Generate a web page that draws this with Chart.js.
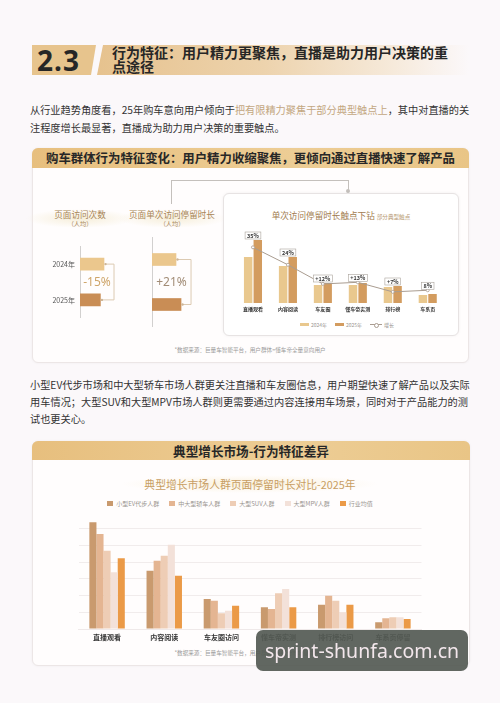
<!DOCTYPE html>
<html>
<head>
<meta charset="utf-8">
<script src="https://cdn.jsdelivr.net/npm/chart.js@4.4.1/dist/chart.umd.min.js"></script>
<style>
  body { margin: 0; background: #fbf8fa; font-family: "Noto Sans CJK SC", sans-serif; }
  #page { position: relative; width: 500px; height: 703px; overflow: hidden; background: #fbf8fa; }
  .abs { position: absolute; }
  .num { left: 32px; top: 45px; width: 64px; height: 30px; background: #e7c48d;
         clip-path: polygon(0 0, 100% 0, calc(100% - 5px) 100%, 0 100%);
         font: bold 28px "Noto Sans", sans-serif; color: #262626; line-height: 30px; text-indent: 5px; letter-spacing: 1px; }
  .banner { left: 97px; top: 45px; width: 372px; height: 30px;
            clip-path: polygon(6px 0, 100% 0, 100% 100%, 0 100%);
            background: linear-gradient(90deg, #e6c28e 0%, #edd3ad 45%, #f6eadb 80%, rgba(250,244,244,0) 100%); }
  .htitle { left: 112px; top: 46px; font-weight: bold; font-size: 14px; line-height: 13.5px; color: #262626; }
  .para { left: 30px; width: 438px; font-size: 10.2px; color: #333; }
  .para div { height: 18px; line-height: 18px; white-space: nowrap; }
  .para .j { text-align: justify; text-align-last: justify; }
  .hl { color: #c3a77f; }
  .panel { background: #fffdfd; border: 1px solid #ece6e6; border-radius: 6px; box-shadow: 0 0 3px rgba(0,0,0,0.05); }
  .band { background: linear-gradient(90deg, #e7bf7e, #edcd95 60%, #e9c586); border-radius: 6px 6px 0 0;
          text-align: center; font-weight: bold; color: #272727; }
  .mtitle { width: 110px; text-align: center; color: #a88557; font-size: 8.6px; line-height: 11px;
            background: radial-gradient(ellipse at center, #f6eed9 0%, rgba(246,238,217,0) 70%); }
  .mtitle small { display: block; font-size: 6.2px; line-height: 8px; }
  .line { background: #c4c0bc; }
  .inner { left: 223px; top: 193px; width: 234px; height: 141px; background: #fff; border: 1px solid #e7e3e3;
           border-radius: 6px; box-shadow: 0 0 3px rgba(0,0,0,0.06); }
  .note { width: 500px; left: 0; text-align: center; font-size: 5.6px; color: #9a9a9a; }
  .leg { display: flex; justify-content: center; align-items: center; color: #9a9590; }
  .leg span.sw { display: inline-block; }
  .wm { left: 256px; top: 630px; width: 212px; height: 41px; border-radius: 7px; background: rgba(84,90,84,0.92);
        color: #f3e7ec; font: 19.5px "Noto Sans", sans-serif; line-height: 41px; text-align: center; }
</style>
</head>
<body>
<div id="page">
  <div class="abs num">2.3</div>
  <div class="abs banner"></div>
  <div class="abs htitle">行为特征：用户精力更聚焦，直播是助力用户决策的重<br>点途径</div>

  <div class="abs para" style="top:101px">
    <div class="j">从行业趋势角度看，25年购车意向用户倾向于<span class="hl">把有限精力聚焦于部分典型触点上</span>，其中对直播的关</div>
    <div>注程度增长最显著，直播成为助力用户决策的重要触点。</div>
  </div>

  <div class="abs panel" style="left:32px;top:148px;width:435px;height:213px"></div>
  <div class="abs band" style="left:32px;top:148px;width:437px;height:20px;line-height:20px;font-size:12.4px">购车群体行为特征变化：用户精力收缩聚焦，更倾向通过直播快速了解产品</div>

  <div class="abs line" style="left:171px;top:180px;width:1px;height:24px"></div>
  <div class="abs line" style="left:171px;top:180px;width:178px;height:1px"></div>
  <div class="abs line" style="left:348px;top:180px;width:1px;height:11px"></div>
  <div class="abs" style="left:346px;top:189px;width:4px;height:4px;border-radius:2px;background:#c4c0bc"></div>

  <div class="abs mtitle" style="left:25px;top:209px">页面访问次数<small>（人均）</small></div>
  <div class="abs mtitle" style="left:117px;top:209px">页面单次访问停留时长<small>（人均）</small></div>
  <canvas id="visitChart" class="abs" width="98" height="90" style="left:30px;top:237px"></canvas>
  <canvas id="stayChart" class="abs" width="58" height="90" style="left:142px;top:237px"></canvas>

  <div class="abs inner"></div>
  <div class="abs" style="left:223px;top:209px;width:236px;text-align:center;color:#a27c4e;font-size:8.6px">单次访问停留时长触点下钻 <span style="font-size:5.6px;color:#b79a74">部分典型触点</span></div>
  <canvas id="touchChart" class="abs" width="220" height="90" style="left:230px;top:225px"></canvas>
  <div id="touchLegend" class="abs leg" style="left:237px;top:320px;width:220px;height:9px;font-size:5px"></div>
  <div class="abs note" style="top:346px">*数据来源：巨量车智能平台，用户群体=懂车帝全量意向用户</div>

  <div class="abs para" style="top:376px">
    <div class="j">小型EV代步市场和中大型轿车市场人群更关注直播和车友圈信息，用户期望快速了解产品以及实际</div>
    <div class="j" style="margin-top:-1px">用车情况；大型SUV和大型MPV市场人群则更需要通过内容连接用车场景，同时对于产品能力的测</div>
    <div style="margin-top:-1px">试也更关心。</div>
  </div>

  <div class="abs panel" style="left:32px;top:441px;width:436px;height:223px"></div>
  <div class="abs band" style="left:32px;top:441px;width:438px;height:19px;line-height:19px;font-size:12.6px">典型增长市场-行为特征差异</div>
  <div class="abs" style="left:120px;top:475px;width:260px;height:18px;line-height:18px;text-align:center;color:#c89e63;font-size:10.8px;background:radial-gradient(ellipse at center,#faf1dc 0%,rgba(250,241,220,0) 70%)">典型增长市场人群页面停留时长对比-2025年</div>
  <div id="marketLegend" class="abs leg" style="left:0;top:499px;width:480px;height:9px;font-size:6px"></div>
  <canvas id="marketChart" class="abs" width="360" height="138" style="left:70px;top:505px"></canvas>
  <div class="abs note" style="top:649px">*数据来源：巨量车智能平台，用户群体=各细分市场意向用户</div>

  <div class="abs wm">sprint-shunfa.com.cn</div>
</div>

<script>
// 页面访问次数 / 停留时长（人均，2024=100）
const yearLabels = ['2024年', '2025年'];
const visitIndex = [100, 85];
const stayIndex = [100, 121];

// 触点下钻
const touchCats = ['直播观看', '内容阅读', '车友圈', '懂车帝实测', '排行榜', '车系页'];
const touch2024 = [46, 37, 18, 18, 16, 8];
const touch2025 = [63, 46, 20, 20, 17, 9];
const growthPct = [35, 24, 12, 13, 7, 8];
const growthText = ['35%', '24%', '+12%', '+13%', '+7%', '8%'];
const touchSeries = ['2024年', '2025年', '增长'];

// 典型增长市场 2025
const marketCats = ['直播观看', '内容阅读', '车友圈访问', '懂车帝实测', '排行榜访问', '车系页停留'];
const marketGroups = ['小型EV代步人群', '中大型轿车人群', '大型SUV人群', '大型MPV人群', '行业均值'];
const evStay = [128, 70, 36, 26, 29, 8];
const sedanStay = [114, 82, 34, 24, 40, 13];
const suvStay = [94, 88, 19, 43, 34, 14];
const mpvStay = [68, 101, 22, 48, 20, 14];
const avgStay = [85, 64, 28, 26, 29, 12];

Chart.defaults.font.family = '"Noto Sans CJK SC", sans-serif';
Chart.defaults.animation = false;
Chart.defaults.responsive = false;
Chart.defaults.plugins.legend.display = false;
Chart.defaults.plugins.tooltip.enabled = false;

const corAno = ['#ebc78d', '#c98d55'];

function bracket(texto, cor) {
    return {
        id: 'bracket',
        afterDatasetsDraw(chart) {
            const ctx = chart.ctx;
            const bars = chart.getDatasetMeta(0).data;
            const a = bars[0], b = bars[1];
            const bx = Math.max(a.x, b.x) + 10;
            ctx.save();
            ctx.strokeStyle = '#dccab2';
            ctx.lineWidth = 1;
            ctx.beginPath();
            ctx.moveTo(a.x + 1, a.y);
            ctx.lineTo(bx, a.y);
            ctx.lineTo(bx, b.y);
            ctx.lineTo(b.x + 1, b.y);
            ctx.stroke();
            ctx.fillStyle = '#cdb597';
            [a, b].forEach(p => { ctx.beginPath(); ctx.arc(p.x + 1.5, p.y, 1.2, 0, Math.PI * 2); ctx.fill(); });
            ctx.font = '12px "Noto Sans", sans-serif';
            ctx.fillStyle = cor;
            ctx.textAlign = 'center';
            ctx.textBaseline = 'middle';
            ctx.fillText(texto, (chart.chartArea.left + bx) / 2, (a.y + b.y) / 2 + 1);
            ctx.restore();
        }
    };
}

function miniChart(id, valores, texto, cor, comLabels) {
    new Chart(document.getElementById(id), {
        type: 'bar',
        data: {
            labels: yearLabels,
            datasets: [{ data: valores, backgroundColor: corAno, barThickness: 12 }]
        },
        options: {
            indexAxis: 'y',
            layout: { padding: 0 },
            scales: {
                x: { display: false, min: 0, max: 200 },
                y: {
                    afterFit: s => { s.width = comLabels ? 50 : 10; },
                    grid: { display: false, drawTicks: false },
                    border: { color: '#d2d0cf' },
                    ticks: { display: comLabels, color: '#555', font: { size: 7 }, padding: 5 }
                }
            }
        },
        plugins: [bracket(texto, cor)]
    });
}

miniChart('visitChart', visitIndex, '-15%', '#cfa66b', true);
miniChart('stayChart', stayIndex, '+21%', '#a28c76', false);

const growthBoxes = {
    id: 'growthBoxes',
    afterDatasetsDraw(chart) {
        const ctx = chart.ctx;
        const x = chart.scales.x;
        const bars = chart.getDatasetMeta(1).data;
        const pts = chart.getDatasetMeta(2).data;
        ctx.save();
        ctx.font = 'bold 5.5px "Noto Sans CJK SC"';
        ctx.textAlign = 'center';
        ctx.textBaseline = 'middle';
        growthText.forEach((t, i) => {
            const cx = x.getPixelForValue(i);
            const bottom = Math.min(bars[i].y, pts[i].y) - 1;
            const w = ctx.measureText(t).width + 4, h = 7;
            ctx.fillStyle = '#fff';
            ctx.fillRect(cx - w / 2, bottom - h, w, h);
            ctx.strokeStyle = '#aaa39c';
            ctx.lineWidth = 0.6;
            ctx.strokeRect(cx - w / 2, bottom - h, w, h);
            ctx.fillStyle = '#3a3a3a';
            ctx.fillText(t, cx, bottom - h / 2);
        });
        ctx.restore();
    }
};

const corTouch = ['#e9c88e', '#d39c5f'];
const corLinha = '#a99c90';

new Chart(document.getElementById('touchChart'), {
    type: 'bar',
    data: {
        labels: touchCats,
        datasets: [
            { label: touchSeries[0], data: touch2024, backgroundColor: corTouch[0], categoryPercentage: 0.55, barPercentage: 0.88, order: 2 },
            { label: touchSeries[1], data: touch2025, backgroundColor: corTouch[1], categoryPercentage: 0.55, barPercentage: 0.88, order: 2 },
            { type: 'line', label: touchSeries[2], data: growthPct, yAxisID: 'y1', borderColor: corLinha, borderWidth: 1,
              pointRadius: 1.5, pointBackgroundColor: '#fff', pointBorderColor: corLinha, pointBorderWidth: 0.8, order: 1 }
        ]
    },
    options: {
        layout: { padding: { left: 5.5, right: 4.5, top: 8, bottom: 0 } },
        scales: {
            x: {
                afterFit: s => { s.height = 12; },
                grid: { display: false, drawTicks: false },
                border: { display: false },
                ticks: { color: '#333', font: { size: 5, weight: 'bold' }, padding: 3, maxRotation: 0, autoSkip: false }
            },
            y: { display: false, min: 0, max: 70 },
            y1: { display: false, min: 0, max: 44 }
        }
    },
    plugins: [growthBoxes]
});

document.getElementById('touchLegend').innerHTML =
    `<span class="sw" style="width:9px;height:3px;background:${corTouch[0]};margin-right:2px"></span>${touchSeries[0]}` +
    `<span class="sw" style="width:9px;height:3px;background:${corTouch[1]};margin:0 2px 0 8px"></span>${touchSeries[1]}` +
    `<span class="sw" style="width:12px;height:4px;margin:0 2px 0 8px;background:linear-gradient(${corLinha},${corLinha}) center/100% 1px no-repeat;position:relative"><span style="position:absolute;left:4px;top:0;width:3px;height:3px;border:0.6px solid ${corLinha};border-radius:50%;background:#fff"></span></span>${touchSeries[2]}`;

const corMercado = ['#c99a6e', '#e4b592', '#eecdb5', '#f3e1d9', '#eb9a47'];
const seriesMercado = [evStay, sedanStay, suvStay, mpvStay, avgStay];

new Chart(document.getElementById('marketChart'), {
    type: 'bar',
    data: {
        labels: marketCats,
        datasets: seriesMercado.map((d, i) => ({
            label: marketGroups[i],
            data: d,
            backgroundColor: corMercado[i],
            categoryPercentage: 0.62,
            barPercentage: 1
        }))
    },
    options: {
        layout: { padding: { left: 8.5, right: 8.5, top: 7.3, bottom: 0 } },
        scales: {
            x: {
                afterFit: s => { s.height = 14; },
                grid: { display: false, drawTicks: false },
                border: { color: '#efe9e9' },
                ticks: { color: '#333', font: { size: 7, weight: 'bold' }, padding: 4, maxRotation: 0, autoSkip: false }
            },
            y: {
                min: 0, max: 140,
                afterFit: s => { s.width = 0; },
                ticks: { display: false, stepSize: 20 },
                border: { display: false },
                grid: { drawTicks: false, color: c => (c.tick.value > 0 && c.tick.value < 140) ? 'rgba(210,200,200,0.3)' : 'rgba(0,0,0,0)' }
            }
        }
    }
});

document.getElementById('marketLegend').innerHTML = marketGroups.map((g, i) =>
    `<span class="sw" style="width:6px;height:5px;background:${corMercado[i]};margin:0 3px 0 ${i ? 10 : 0}px"></span>${g}`
).join('');
</script>
</body>
</html>
